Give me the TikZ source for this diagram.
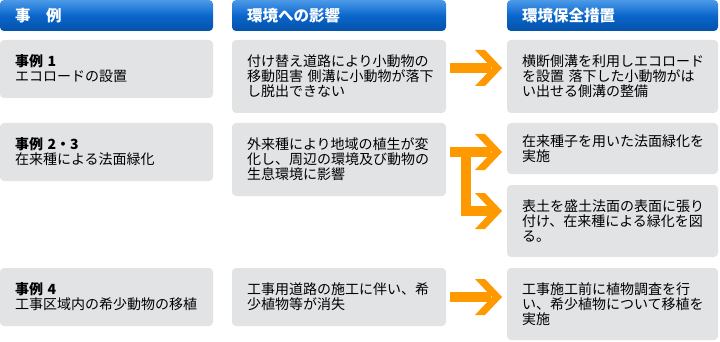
\documentclass[tikz,border=0pt]{standalone}
\usepackage{fontspec}
\setmainfont{Noto Sans CJK JP}
\usetikzlibrary{calc}
\definecolor{hdrtop}{HTML}{4C9AE8}
\definecolor{hdrmid}{HTML}{0A66CC}
\definecolor{hdrbot}{HTML}{0452A8}
\definecolor{boxgray}{HTML}{E2E3E5}
\definecolor{arrorange}{HTML}{FF9900}
\begin{document}
\begin{tikzpicture}[x=1pt,y=-1pt,
  hdr/.style={rounded corners=4pt, top color=hdrtop, bottom color=hdrbot, middle color=hdrmid,
    anchor=north west, minimum height=31pt, inner xsep=15pt, inner ysep=0pt, outer sep=0pt,
    align=left, text=white, font=\fontsize{15.5}{16}\selectfont\bfseries},
  gbox/.style={rounded corners=4pt, fill=boxgray, anchor=north west, inner xsep=15pt,
    inner ysep=0pt, outer sep=0pt, align=left, text=black, font=\fontsize{14}{15}\selectfont},
  shaft/.style={draw=arrorange, line width=10pt},
  chev/.pic={\fill[arrorange] (0,0) -- (-17,-18) -- (-27,-18) -- (-10,0) -- (-27,18) -- (-17,18) -- cycle;}
]
\useasboundingbox (0,0) rectangle (720,342);

% headers
\node[hdr, text width=183pt] (h1) at (0,0) {事　例};
\node[hdr, text width=184pt] (h2) at (232,0) {環境への影響};
\node[hdr, text width=181pt] (h3) at (507,0) {環境保全措置};

% row 1
\node[gbox, text width=183pt, minimum height=58pt] (l1) at (0,40) {\textbf{事例 1}\\エコロードの設置};
\node[gbox, text width=184pt, minimum height=73pt] (m1) at (232,40) {付け替え道路により小動物の\\\mbox{移動阻害 側溝に小動物が落下}\\し脱出できない};
\node[gbox, text width=181pt, minimum height=73pt] (r1) at (507,40) {横断側溝を利用しエコロード\\\mbox{を設置 落下した小動物がは}\\い出せる側溝の整備};

% row 2
\node[gbox, text width=183pt, minimum height=58pt] (l2) at (0,123) {\textbf{事例 2・3}\\在来種による法面緑化};
\node[gbox, text width=184pt, minimum height=73pt] (m2) at (232,123) {外来種により地域の植生が変\\化し、周辺の環境及び動物の\\生息環境に影響};
\node[gbox, text width=181pt, minimum height=51pt] (r2a) at (507,123) {在来種子を用いた法面緑化を\\実施};
\node[gbox, text width=181pt, minimum height=72pt] (r2b) at (507,185) {表土を盛土法面の表面に張り\\付け、在来種による緑化を図\\る。};

% row 3
\node[gbox, text width=183pt, minimum height=58pt] (l3) at (0,268) {\textbf{事例 4}\\工事区域内の希少動物の移植};
\node[gbox, text width=184pt, minimum height=58pt] (m3) at (232,268) {工事用道路の施工に伴い、希\\少植物等が消失};
\node[gbox, text width=181pt, minimum height=72pt] (r3) at (507,268) {工事施工前に植物調査を行\\い、希少植物について移植を\\実施};

% arrow coordinates
\coordinate (s1) at ($(m1.north east)+(4,28)$);
\coordinate (t1) at ($(r1.north west)+(-5,28)$);
\coordinate (s2) at ($(m2.north east)+(4,29)$);
\coordinate (j2) at ($(m2.north east)+(20,29)$);
\coordinate (t2a) at ($(r2a.north west)+(-5,29)$);
\coordinate (t2b) at ($(r2b.north west)+(-5,26)$);
\coordinate (s3) at ($(m3.north east)+(4,29)$);
\coordinate (t3) at ($(r3.north west)+(-5,29)$);

% arrows
\draw[shaft] (s1) -- ($(t1)+(-11,0)$);
\pic at (t1) {chev};

\draw[shaft] (s2) -- ($(t2a)+(-11,0)$);
\draw[shaft, line cap=rect, line join=miter] (j2) -- (j2 |- t2b) -- ($(t2b)+(-14,0)$);
\pic at (t2a) {chev};
\pic at (t2b) {chev};

\draw[shaft] (s3) -- ($(t3)+(-11,0)$);
\pic at (t3) {chev};
\end{tikzpicture}
\end{document}
